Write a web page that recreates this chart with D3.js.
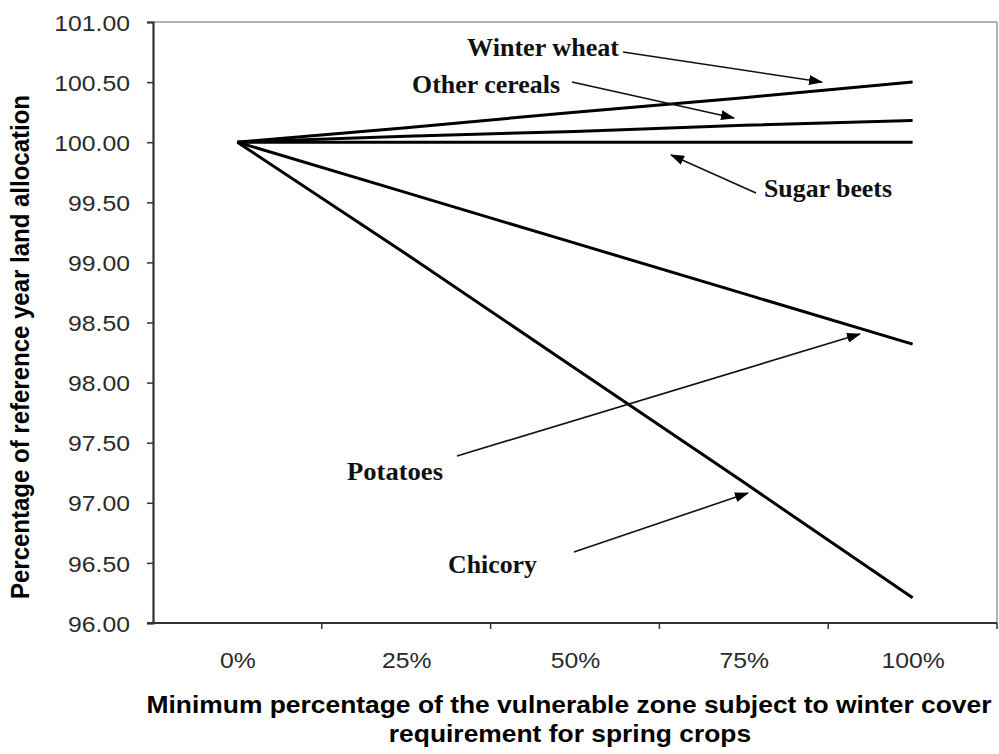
<!DOCTYPE html>
<html><head><meta charset="utf-8">
<script src="https://cdn.jsdelivr.net/npm/d3@7"></script>
<style>body{margin:0;background:#fff}svg{display:block}</style>
</head><body>
<svg id="c" width="999" height="754"></svg>
<script>
// ---- data ----
const categories = ["0%", "25%", "50%", "75%", "100%"];
const winterWheat = [100.00, 100.12, 100.25, 100.37, 100.50];
const otherCereals = [100.00, 100.05, 100.09, 100.14, 100.18];
const sugarBeets = [100.00, 100.00, 100.00, 100.00, 100.00];
const potatoes = [100.00, 99.58, 99.16, 98.74, 98.32];
const chicory = [100.00, 99.07, 98.12, 97.17, 96.21];
const yTicks = [96.0, 96.5, 97.0, 97.5, 98.0, 98.5, 99.0, 99.5, 100.0, 100.5, 101.0];
const seriesNames = ["Winter wheat", "Other cereals", "Sugar beets", "Potatoes", "Chicory"];
const seriesValues = [winterWheat, otherCereals, sugarBeets, potatoes, chicory];

// ---- layout ----
const L = 153, R = 997, T = 22, B = 623;
const STRETCH = 1.1;
const annotations = [ // label layout in pixels: text left/baseline, arrow tail, arrow tip, width
  {name:"Winter wheat", tx:467, ty:56, w:152, x1:623, y1:52, x2:822, y2:82},
  {name:"Other cereals", tx:412, ty:93, w:148, x1:572, y1:82, x2:734, y2:118},
  {name:"Sugar beets", tx:764, ty:197, w:128, x1:756, y1:193, x2:671, y2:155},
  {name:"Potatoes", tx:347, ty:480, w:96, x1:457, y1:456, x2:860, y2:334},
  {name:"Chicory", tx:448, ty:573, w:89, x1:574, y1:552, x2:748, y2:493}
];

const svg = d3.select("#c");
const x = d3.scalePoint().domain(categories).range([L, R]).padding(0.5);
const xb = d3.scaleBand().domain(categories).range([L, R]);
const y = d3.scaleLinear().domain([96, 101]).range([B, T]);

function stretch(sel){
  sel.each(function(){ const l=this.getComputedTextLength(); d3.select(this).attr("textLength", l*STRETCH).attr("lengthAdjust","spacingAndGlyphs"); });
}

// plot border (top/right)
svg.append("line").attr("x1",L).attr("x2",R).attr("y1",T).attr("y2",T).attr("stroke","#9a9a9a").attr("stroke-width",1.5);
svg.append("line").attr("x1",R).attr("x2",R).attr("y1",T).attr("y2",B).attr("stroke","#9a9a9a").attr("stroke-width",1.5);

// y axis
const ya = svg.append("g").attr("transform",`translate(${L},0)`)
  .call(d3.axisLeft(y).tickValues(yTicks).tickFormat(d3.format(".2f")).tickSize(6).tickPadding(17));
ya.select(".domain").attr("stroke","#333").attr("stroke-width",2.2);
ya.selectAll(".tick line").attr("stroke","#333").attr("stroke-width",1.5);
ya.selectAll("text").attr("font-family","'Liberation Sans', Arial, sans-serif").attr("font-size",22.5).attr("fill","#2a2a2a").attr("dy","0.36em").call(stretch);

// x axis
const xa = svg.append("g").attr("transform",`translate(0,${B})`)
  .call(d3.axisBottom(x).tickSize(0).tickPadding(29));
xa.select(".domain").remove();
svg.append("line").attr("x1",L-6).attr("x2",R).attr("y1",B).attr("y2",B).attr("stroke","#333").attr("stroke-width",2.2);
svg.selectAll(".xtick").data(categories.slice(1).concat(["end"])).enter().append("line")
  .attr("x1",d=> d==="end"? R : xb(d)).attr("x2",d=> d==="end"? R : xb(d))
  .attr("y1",B).attr("y2",B+6).attr("stroke","#333").attr("stroke-width",1.5);
xa.selectAll("text").attr("font-family","'Liberation Sans', Arial, sans-serif").attr("font-size",22.5).attr("fill","#2a2a2a").call(stretch);

// series lines
const line = d3.line().x((d,i)=>x(categories[i])).y(d=>y(d));
svg.selectAll(".series").data(seriesValues).enter().append("path")
  .attr("d", line).attr("fill","none").attr("stroke","#000").attr("stroke-width",3).attr("stroke-linejoin","round");

// arrow marker
svg.append("defs").append("marker").attr("id","ah").attr("markerUnits","userSpaceOnUse")
  .attr("viewBox","0 0 14 10").attr("refX",13).attr("refY",5).attr("markerWidth",14).attr("markerHeight",10).attr("orient","auto")
  .append("path").attr("d","M0,0 L14,5 L0,10 Z").attr("fill","#000");

const ann = svg.selectAll(".ann").data(annotations).enter().append("g");
ann.append("line").attr("x1",d=>d.x1).attr("y1",d=>d.y1).attr("x2",d=>d.x2).attr("y2",d=>d.y2)
  .attr("stroke","#111").attr("stroke-width",1.6).attr("marker-end","url(#ah)");
ann.append("text").attr("x",d=>d.tx).attr("y",d=>d.ty).text(d=>d.name)
  .attr("font-family","'Liberation Serif', 'Times New Roman', serif").attr("font-weight","bold").attr("font-size",25)
  .attr("fill","#111").attr("textLength",d=>d.w).attr("lengthAdjust","spacingAndGlyphs");

// axis titles
svg.append("g").attr("transform","translate(29,347) scale(1.1,1) rotate(-90)")
  .append("text").attr("text-anchor","middle").attr("font-family","'Liberation Sans', Arial, sans-serif")
  .attr("font-weight","bold").attr("font-size",24).attr("fill","#000")
  .text("Percentage of reference year land allocation");
const xt = svg.append("text").attr("text-anchor","middle").attr("font-family","'Liberation Sans', Arial, sans-serif")
  .attr("font-weight","bold").attr("font-size",24).attr("fill","#000");
xt.append("tspan").attr("x",569).attr("y",713).text("Minimum percentage of the vulnerable zone subject to winter cover");
xt.append("tspan").attr("x",570).attr("y",742).text("requirement for spring crops");
xt.selectAll("tspan").call(stretch);
</script>
</body></html>
